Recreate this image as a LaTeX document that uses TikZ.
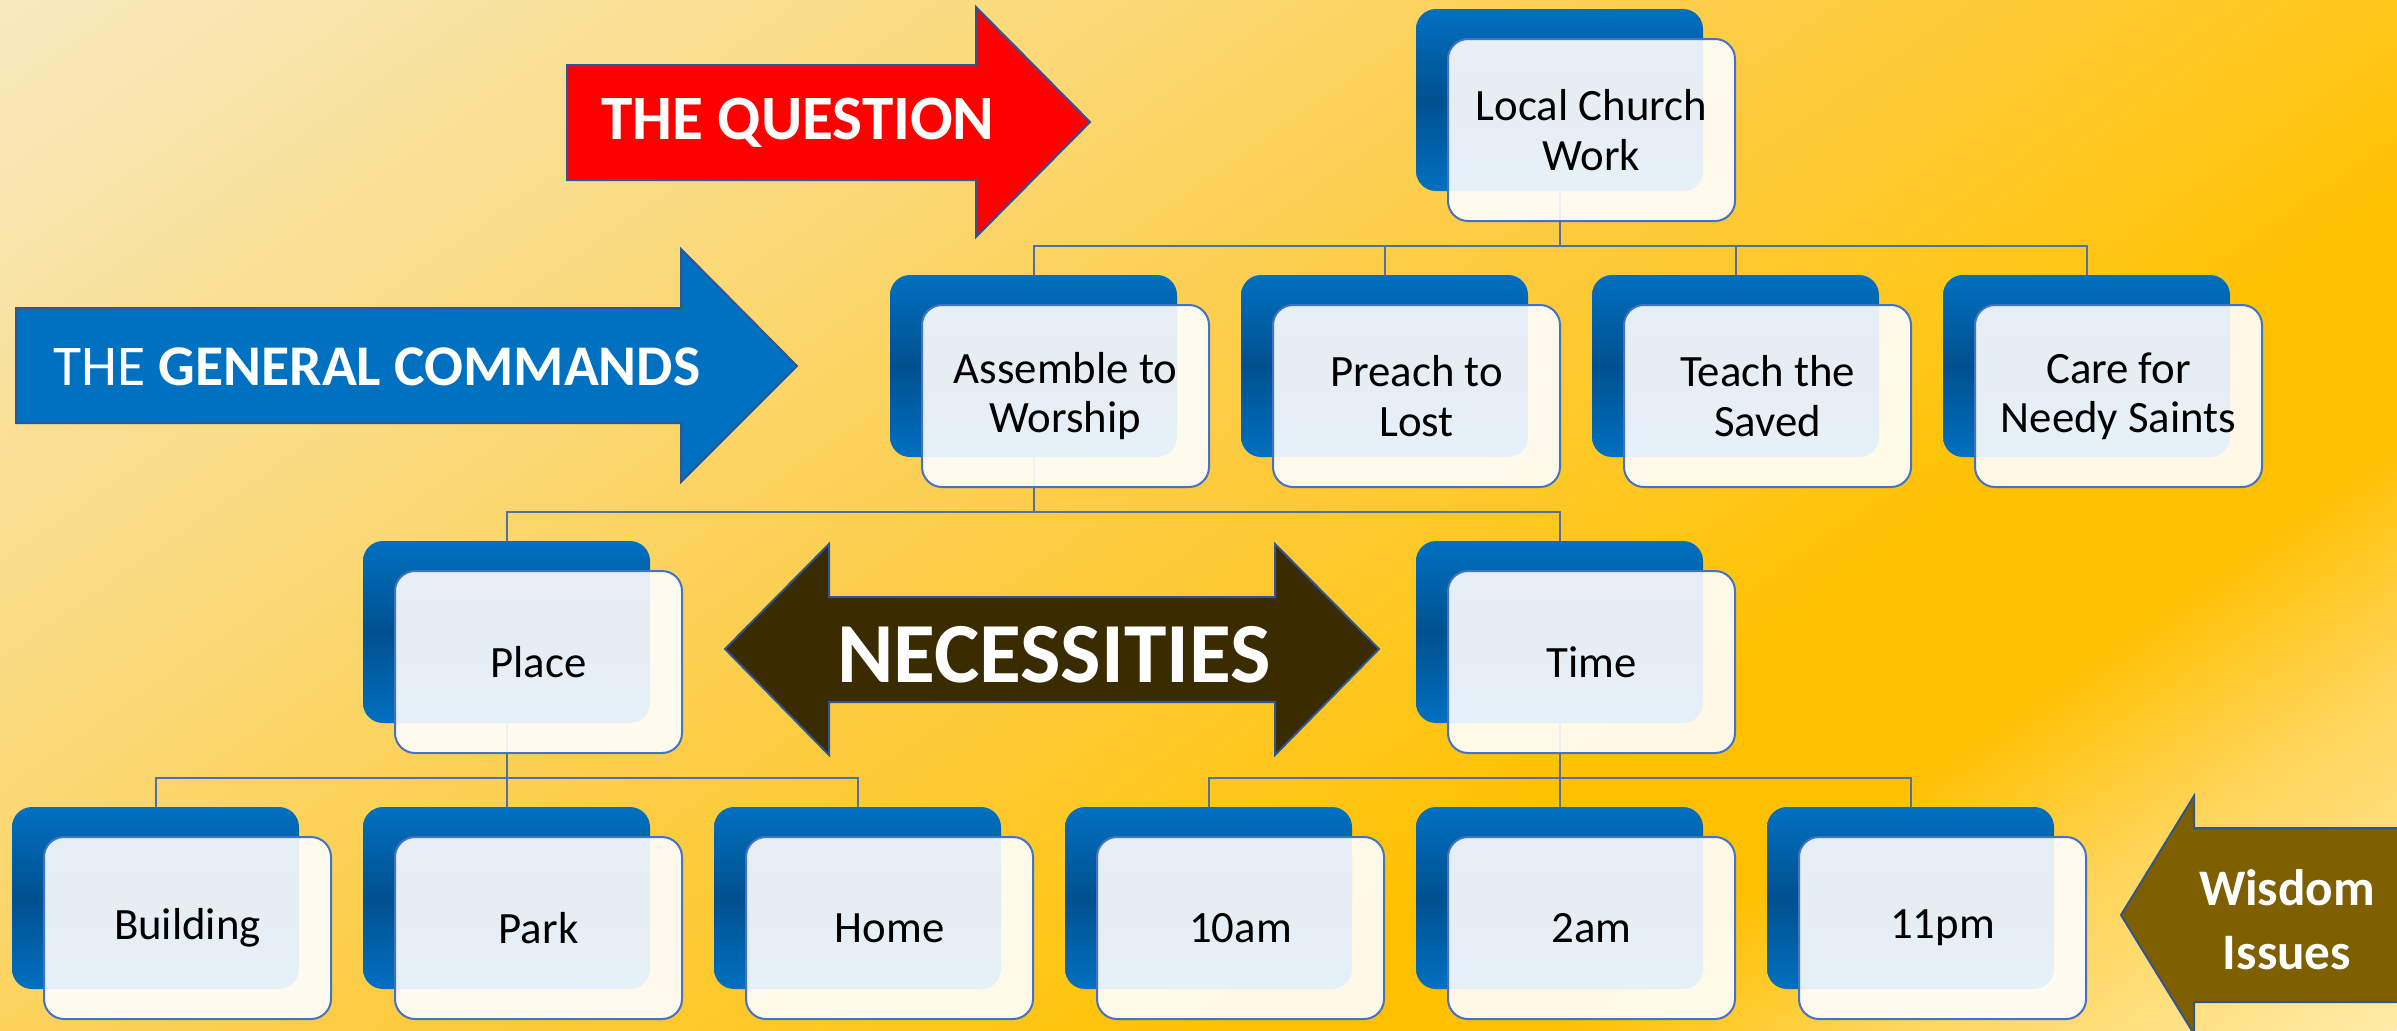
\documentclass[tikz,border=0pt]{standalone}
\usepackage{fontspec}
\setmainfont{Carlito}
\usetikzlibrary{positioning,calc}

\definecolor{bgA}{HTML}{F8E8BE}
\definecolor{bgB}{HTML}{F9E4A8}
\definecolor{bgC}{HTML}{FBD874}
\definecolor{bgD}{HTML}{FDCA3A}
\definecolor{bgE}{HTML}{FFC71A}
\definecolor{bgF}{HTML}{FFC000}
\definecolor{bgG}{HTML}{FFD55A}
\definecolor{bgH}{HTML}{FFEBA8}
\definecolor{boxblue}{HTML}{0070C0}
\definecolor{boxdark}{HTML}{00508F}
\definecolor{boxline}{HTML}{4472C4}
\definecolor{linkcol}{HTML}{5070A8}
\definecolor{arrline}{HTML}{2F5597}
\definecolor{qred}{HTML}{FF0000}
\definecolor{cmdblue}{HTML}{0070C0}
\definecolor{needbrown}{HTML}{3A2B00}
\definecolor{wisebrown}{HTML}{7F6000}

\pgfdeclarehorizontalshading{bgshade}{100bp}{color(0bp)=(bgA); color(25bp)=(bgA);
  color(30bp)=(bgB); color(40bp)=(bgC); color(50bp)=(bgD); color(56bp)=(bgE);
  color(60bp)=(bgF); color(64bp)=(bgF); color(68.5bp)=(bgG); color(75bp)=(bgH);
  color(100bp)=(bgH)}

\begin{document}
\begin{tikzpicture}[
    x=0.25pt, y=-0.25pt,
    font=\fontsize{11.2}{12.3}\selectfont,
    backbox/.style={rounded corners=5pt, minimum width=71.75pt, minimum height=45.5pt,
                    inner sep=0pt, outer sep=0pt,
                    top color=boxblue, bottom color=boxblue, middle color=boxdark},
    frontbox/.style={draw=boxline, line width=0.5pt, rounded corners=5pt, fill=white,
                     fill opacity=0.9, text opacity=1, align=center, inner sep=2pt,
                     minimum width=71.75pt, minimum height=45.5pt, outer sep=0pt},
    link/.style={draw=linkcol, line width=0.5pt},
    bigarrow/.style={draw=arrline, line width=0.5pt, line join=miter},
    arrowtext/.style={text=white, align=center, inner sep=0pt},
  ]
  \useasboundingbox (0,0) rectangle (2397,1030);
  \clip (0,0) rectangle (2397,1030);
  % diagonal background gradient
  \begin{scope}[transform canvas={rotate=-55}]
    \shade[shading=bgshade] (0pt,-155pt) rectangle (554.6pt,500pt);
  \end{scope}

  % side arrows
  \fill[bigarrow, fill=qred] (567,65) -- (976,65) -- (976,7) -- (1090,122)
    -- (976,237) -- (976,180) -- (567,180) -- cycle;
  \node[arrowtext, font=\fontsize{15.8}{19}\selectfont\bfseries] (question) at (798,123) {THE QUESTION};

  \fill[bigarrow, fill=cmdblue] (16,308) -- (681,308) -- (681,249) -- (797,366)
    -- (681,482) -- (681,423) -- (16,423) -- cycle;
  \node[arrowtext, font=\fontsize{14.4}{17}\selectfont] (commands) at (377,367) {THE \textbf{GENERAL COMMANDS}};

  \fill[bigarrow, fill=needbrown] (725,649) -- (829,544) -- (829,597) -- (1275,597)
    -- (1275,544) -- (1379,649) -- (1275,755) -- (1275,702) -- (829,702) -- (829,755) -- cycle;
  \node[arrowtext, font=\fontsize{21.4}{25}\selectfont\bfseries] (needs) at (1054,655) {NECESSITIES};

  \fill[bigarrow, fill=wisebrown] (2121,915) -- (2194,796) -- (2194,828) -- (2420,828)
    -- (2420,1002) -- (2194,1002) -- (2194,1034) -- cycle;
  \node[arrowtext, font=\fontsize{12.8}{16}\selectfont\bfseries] (wisdom) at (2287,920) {Wisdom\\Issues};

  % back boxes
  \node[backbox] (work-b) at (1559.5,100) {};
  \node[backbox] (assemble-b) at (1033.5,366) {};
  \node[backbox, right=16pt of assemble-b] (preach-b) {};
  \node[backbox, right=16pt of preach-b] (teach-b) {};
  \node[backbox, right=16pt of teach-b] (care-b) {};
  \node[backbox] (place-b) at (506.5,632) {};
  \node[backbox] (time-b) at (1559.5,632) {};
  \node[backbox] (building-b) at (155.5,898) {};
  \node[backbox, right=16pt of building-b] (park-b) {};
  \node[backbox, right=16pt of park-b] (home-b) {};
  \node[backbox, right=16pt of home-b] (ten-b) {};
  \node[backbox, right=16pt of ten-b] (two-b) {};
  \node[backbox, right=16pt of two-b] (eleven-b) {};

  % tree links
  \foreach \kid in {assemble,preach,teach,care}
    \draw[link] (work-b.south) -- ++(0,55) -| (\kid-b.north);
  \foreach \kid in {place,time}
    \draw[link] (assemble-b.south) -- ++(0,55) -| (\kid-b.north);
  \foreach \kid in {building,park,home}
    \draw[link] (place-b.south) -- ++(0,55) -| (\kid-b.north);
  \foreach \kid in {ten,two,eleven}
    \draw[link] (time-b.south) -- ++(0,55) -| (\kid-b.north);

  % front boxes
  \node[frontbox] (work) at ([shift={(32,30)}]work-b.center) {Local Church\\Work};
  \node[frontbox] (assemble) at ([shift={(32,30)}]assemble-b.center) {Assemble to\\Worship};
  \node[frontbox] (preach) at ([shift={(32,30)}]preach-b.center) {Preach to\\Lost};
  \node[frontbox] (teach) at ([shift={(32,30)}]teach-b.center) {Teach the\\Saved};
  \node[frontbox] (care) at ([shift={(32,30)}]care-b.center) {Care for\\Needy Saints};
  \node[frontbox] (place) at ([shift={(32,30)}]place-b.center) {Place};
  \node[frontbox] (time) at ([shift={(32,30)}]time-b.center) {Time};
  \node[frontbox] (building) at ([shift={(32,30)}]building-b.center) {Building};
  \node[frontbox] (park) at ([shift={(32,30)}]park-b.center) {Park};
  \node[frontbox] (home) at ([shift={(32,30)}]home-b.center) {Home};
  \node[frontbox] (ten) at ([shift={(32,30)}]ten-b.center) {10am};
  \node[frontbox] (two) at ([shift={(32,30)}]two-b.center) {2am};
  \node[frontbox] (eleven) at ([shift={(32,30)}]eleven-b.center) {11pm};
\end{tikzpicture}
\end{document}
